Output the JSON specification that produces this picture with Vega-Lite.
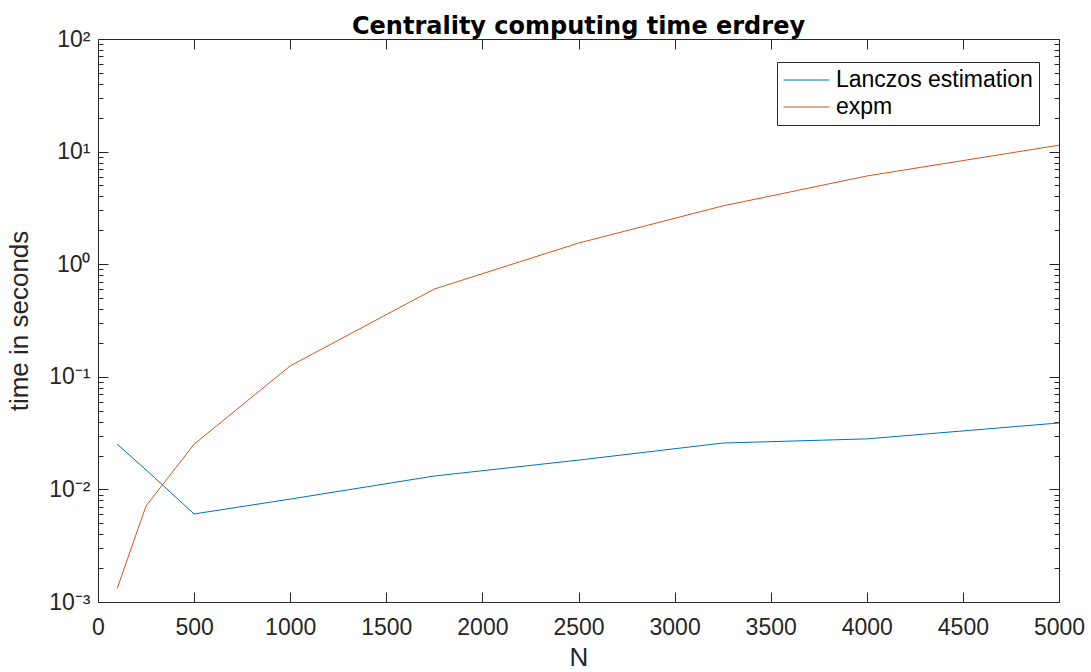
{
  "$schema": "https://vega.github.io/schema/vega-lite/v6.json",
  "width": 961,
  "height": 563,
  "autosize": {"type": "none"},
  "padding": {"left": 98, "top": 39, "right": 32, "bottom": 70},
  "title": {"text": "Centrality computing time erdrey", "anchor": "middle", "baseline": "alphabetic", "offset": -30, "font": "DejaVu Sans", "fontSize": 24, "fontWeight": "bold", "color": "#000000"},
  "data": {"values": [
    {"N": 100, "t": 0.0252, "series": "Lanczos estimation"},
    {"N": 250, "t": 0.0149, "series": "Lanczos estimation"},
    {"N": 500, "t": 0.00605, "series": "Lanczos estimation"},
    {"N": 1000, "t": 0.0082, "series": "Lanczos estimation"},
    {"N": 1750, "t": 0.01315, "series": "Lanczos estimation"},
    {"N": 2500, "t": 0.0182, "series": "Lanczos estimation"},
    {"N": 3250, "t": 0.0258, "series": "Lanczos estimation"},
    {"N": 4000, "t": 0.0281, "series": "Lanczos estimation"},
    {"N": 5000, "t": 0.0389, "series": "Lanczos estimation"},
    {"N": 100, "t": 0.00132, "series": "expm"},
    {"N": 250, "t": 0.00713, "series": "expm"},
    {"N": 500, "t": 0.0252, "series": "expm"},
    {"N": 1000, "t": 0.125, "series": "expm"},
    {"N": 1750, "t": 0.602, "series": "expm"},
    {"N": 2500, "t": 1.54, "series": "expm"},
    {"N": 3250, "t": 3.29, "series": "expm"},
    {"N": 4000, "t": 6.07, "series": "expm"},
    {"N": 5000, "t": 11.4, "series": "expm"}
  ]},
  "resolve": {"axis": {"x": "independent", "y": "independent"}},
  "layer": [
    {
      "mark": {"type": "line", "strokeWidth": 1, "clip": true},
      "encoding": {
        "x": {"field": "N", "type": "quantitative", "scale": {"domain": [0, 5000], "nice": false},
          "axis": {"orient": "bottom", "title": "N", "format": "d", "values": [0,500,1000,1500,2000,2500,3000,3500,4000,4500,5000], "tickSize": -10, "labelPadding": 24, "titlePadding": 5, "labelFlush": false}},
        "y": {"field": "t", "type": "quantitative", "scale": {"type": "log", "domain": [0.001, 100], "nice": false},
          "axis": {"orient": "left", "title": "time in seconds", "values": [0.001, 0.01, 0.1, 1, 10, 100], "tickSize": -10, "labelPadding": 18, "titlePadding": 16, "labelFlush": false,
            "labelExpr": "datum.value < 0.005 ? '10⁻³' : datum.value < 0.05 ? '10⁻²' : datum.value < 0.5 ? '10⁻¹' : datum.value < 5 ? '10⁰' : datum.value < 50 ? '10¹' : '10²'"}},
        "color": {"field": "series", "type": "nominal",
          "scale": {"domain": ["Lanczos estimation", "expm"], "range": ["#0072BD", "#D95319"]},
          "legend": {"title": null, "orient": "none", "legendX": 679, "legendY": 23, "symbolType": "M-1,0H3", "symbolSize": 529, "symbolStrokeWidth": 1, "labelFontSize": 23, "labelFont": "Liberation Sans", "labelColor": "#000000", "fillColor": "#ffffff", "strokeColor": "#262626", "padding": 6, "rowPadding": 3, "labelOffset": 29, "labelLimit": 400}}
      }
    },
    {
      "mark": {"type": "line", "strokeOpacity": 0},
      "encoding": {
        "x": {"field": "N", "type": "quantitative",
          "axis": {"orient": "top", "title": null, "labels": false, "values": [0,500,1000,1500,2000,2500,3000,3500,4000,4500,5000], "tickSize": -10}},
        "y": {"field": "t", "type": "quantitative",
          "axis": {"orient": "left", "title": null, "labels": false, "domain": false, "tickSize": -5,
            "values": [0.002,0.003,0.004,0.005,0.006,0.007,0.008,0.009,0.02,0.03,0.04,0.05,0.06,0.07,0.08,0.09,0.2,0.3,0.4,0.5,0.6,0.7,0.8,0.9,2,3,4,5,6,7,8,9,20,30,40,50,60,70,80,90]}}
      }
    },
    {
      "mark": {"type": "line", "strokeOpacity": 0},
      "encoding": {
        "x": {"field": "N", "type": "quantitative", "axis": null},
        "y": {"field": "t", "type": "quantitative",
          "axis": {"orient": "right", "title": null, "labels": false, "tickSize": -10, "values": [0.001, 0.01, 0.1, 1, 10, 100]}}
      }
    },
    {
      "mark": {"type": "line", "strokeOpacity": 0},
      "encoding": {
        "x": {"field": "N", "type": "quantitative", "axis": null},
        "y": {"field": "t", "type": "quantitative",
          "axis": {"orient": "right", "title": null, "labels": false, "domain": false, "tickSize": -5,
            "values": [0.002,0.003,0.004,0.005,0.006,0.007,0.008,0.009,0.02,0.03,0.04,0.05,0.06,0.07,0.08,0.09,0.2,0.3,0.4,0.5,0.6,0.7,0.8,0.9,2,3,4,5,6,7,8,9,20,30,40,50,60,70,80,90]}}
      }
    }
  ],
  "config": {
    "view": {"stroke": null},
    "axis": {"grid": false, "domainColor": "#262626", "domainWidth": 1, "tickColor": "#262626", "tickWidth": 1,
      "labelFont": "Liberation Sans", "labelFontSize": 23, "labelColor": "#262626",
      "titleFont": "Liberation Sans", "titleFontSize": 26, "titleFontWeight": "normal", "titleColor": "#262626"}
  }
}
